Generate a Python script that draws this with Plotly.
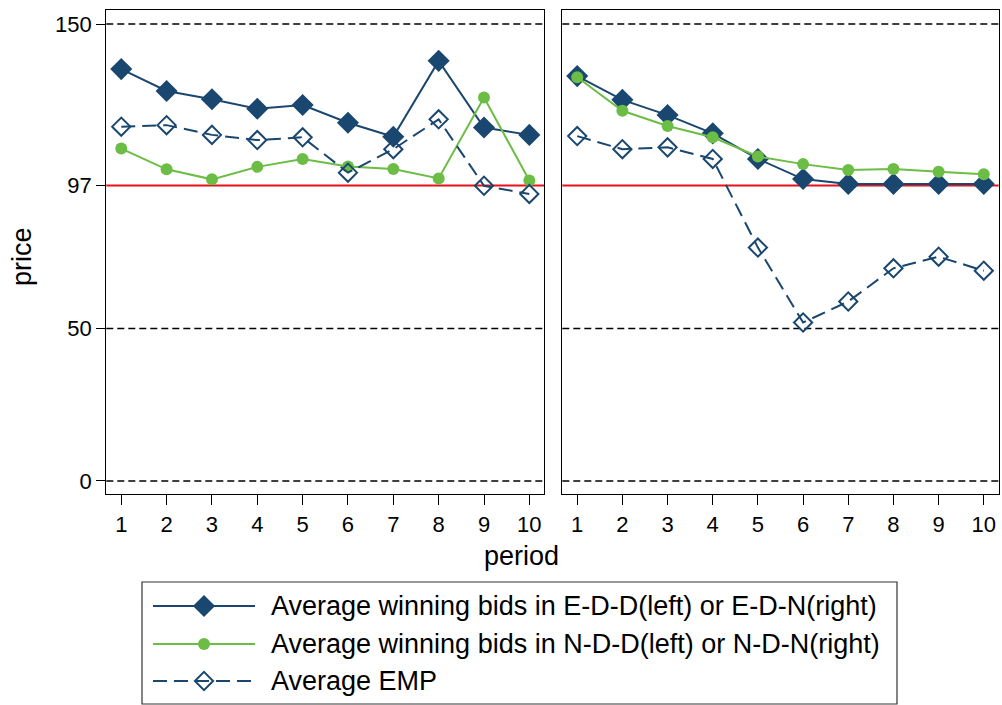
import plotly.graph_objects as go

# Period index shared by both panels
periods = list(range(1, 11))

# Left panel: E-D-D / N-D-D treatments
edd_bids = [135.2, 128.0, 125.3, 122.2, 123.4, 117.6, 113.0, 137.9, 116.0, 113.6]
ndd_bids = [109.1, 102.3, 99.0, 103.1, 105.7, 103.2, 102.4, 99.3, 125.9, 98.6]
emp_left = [116.3, 116.8, 113.6, 111.9, 112.8, 101.2, 108.9, 118.7, 96.9, 94.2]

# Right panel: E-D-N / N-D-N treatments
edn_bids = [132.9, 125.1, 120.1, 114.1, 105.7, 99.1, 97.5, 97.5, 97.5, 97.5]
ndn_bids = [132.5, 121.5, 116.5, 112.8, 106.5, 104.0, 102.1, 102.4, 101.5, 100.7]
emp_right = [113.2, 108.9, 109.5, 105.7, 76.6, 52.0, 58.9, 69.8, 73.6, 69.0]

# Reference levels and y tick labels
ref_level = 97
grid_levels = [0, 50, 150]
y_ticks = [0, 50, 97, 150]

legend_labels = [
    "Average winning bids in E-D-D(left) or E-D-N(right)",
    "Average winning bids in N-D-D(left) or N-D-N(right)",
    "Average EMP",
]

NAVY = "#1a476f"
GREEN = "#6cbd45"
RED = "#e8111b"
FONT = "Liberation Sans, Arial, sans-serif"
W, H = 1002, 705


def px_x(p):
    return p / W


def px_y(p):
    return 1 - p / H


fig = go.Figure()

panels = [
    ("x", "y", edd_bids, ndd_bids, emp_left),
    ("x2", "y2", edn_bids, ndn_bids, emp_right),
]
for xa, ya, bids_e, bids_n, emp in panels:
    fig.add_trace(go.Scatter(
        x=periods, y=bids_e, xaxis=xa, yaxis=ya, mode="lines+markers",
        line=dict(color=NAVY, width=2),
        marker=dict(symbol="diamond", size=17, color=NAVY),
        showlegend=False, cliponaxis=False))
    fig.add_trace(go.Scatter(
        x=periods, y=bids_n, xaxis=xa, yaxis=ya, mode="lines+markers",
        line=dict(color=GREEN, width=2),
        marker=dict(symbol="circle", size=12, color=GREEN),
        showlegend=False, cliponaxis=False))
    fig.add_trace(go.Scatter(
        x=periods, y=emp, xaxis=xa, yaxis=ya, mode="lines+markers",
        line=dict(color=NAVY, width=2, dash="14px,7px"),
        marker=dict(symbol="diamond-open", size=14, color=NAVY,
                    line=dict(width=2, color=NAVY)),
        showlegend=False, cliponaxis=False))

# Horizontal guide lines in each panel
shapes = []
for xa, ya in [("x", "y"), ("x2", "y2")]:
    for lv in grid_levels:
        shapes.append(dict(type="line", xref=f"{xa} domain", yref=ya,
                           x0=0, x1=1, y0=lv, y1=lv, layer="below",
                           line=dict(color="black", width=1.5, dash="7px,4px")))
    shapes.append(dict(type="line", xref=f"{xa} domain", yref=ya,
                       x0=0, x1=1, y0=ref_level, y1=ref_level, layer="below",
                       line=dict(color=RED, width=2)))

# Legend drawn on an overlay axis measured in pixels
legend_rows = [606, 644, 681]
legend_styles = [
    dict(line=dict(color=NAVY, width=2),
         marker=dict(symbol="diamond", size=17, color=NAVY)),
    dict(line=dict(color=GREEN, width=2),
         marker=dict(symbol="circle", size=12, color=GREEN)),
    dict(line=dict(color=NAVY, width=2, dash="14px,7px"),
         marker=dict(symbol="diamond-open", size=14, color=NAVY,
                     line=dict(width=2, color=NAVY))),
]
sample_x0, sample_xm, sample_x1 = 153, 204, 255
for row_y, sty in zip(legend_rows, legend_styles):
    fig.add_trace(go.Scatter(
        x=[sample_x0, sample_x1], y=[row_y, row_y], xaxis="x3", yaxis="y3",
        mode="lines", line=sty["line"], showlegend=False, hoverinfo="skip"))
    fig.add_trace(go.Scatter(
        x=[sample_xm], y=[row_y], xaxis="x3", yaxis="y3",
        mode="markers", marker=sty["marker"], showlegend=False, hoverinfo="skip"))

shapes.append(dict(type="rect", xref="paper", yref="paper",
                   x0=px_x(142), x1=px_x(897), y0=px_y(704), y1=px_y(582),
                   line=dict(color="#333333", width=1.2), fillcolor="rgba(0,0,0,0)"))

annotations = []
for row_y, label in zip(legend_rows, legend_labels):
    annotations.append(dict(xref="paper", yref="paper", x=px_x(269), y=px_y(row_y),
                            text=label, showarrow=False, xanchor="left",
                            yanchor="middle", font=dict(family=FONT, size=27, color="black")))
annotations.append(dict(xref="paper", yref="paper", x=px_x(521), y=px_y(556),
                        text="period", showarrow=False, xanchor="center",
                        yanchor="middle", font=dict(family=FONT, size=27, color="black")))
annotations.append(dict(xref="paper", yref="paper", x=px_x(22), y=px_y(257),
                        text="price", showarrow=False, textangle=-90,
                        xanchor="center", yanchor="middle",
                        font=dict(family=FONT, size=27, color="black")))

y_dom = [px_y(494), px_y(10)]
x_range = [0.67, 10.33]
y_range = [-4.3, 154.6]

common_x = dict(range=x_range, tickvals=periods, ticks="outside", ticklen=10,
                tickwidth=1.2, tickcolor="black", showline=True, linecolor="black",
                linewidth=1.2, mirror=True, showgrid=False, zeroline=False,
                tickfont=dict(family=FONT, size=22, color="black"))
common_y = dict(range=y_range, showline=True, linecolor="black", linewidth=1.2,
                mirror=True, showgrid=False, zeroline=False)

fig.update_layout(
    width=W, height=H, margin=dict(l=0, r=0, t=0, b=0),
    paper_bgcolor="white", plot_bgcolor="rgba(0,0,0,0)",
    xaxis=dict(domain=[px_x(106.3), px_x(544.3)], anchor="y", **common_x),
    xaxis2=dict(domain=[px_x(562.3), px_x(998.7)], anchor="y2", **common_x),
    yaxis=dict(domain=y_dom, anchor="x", tickvals=y_ticks, ticks="outside",
               ticklen=9, tickwidth=1.2, tickcolor="black",
               tickfont=dict(family=FONT, size=22, color="black"), **common_y),
    yaxis2=dict(domain=y_dom, anchor="x2", showticklabels=False, ticks="", **common_y),
    xaxis3=dict(domain=[0, 1], range=[0, W], visible=False, anchor="y3", fixedrange=True),
    yaxis3=dict(domain=[0, 1], range=[H, 0], visible=False, anchor="x3", fixedrange=True),
    shapes=shapes, annotations=annotations,
    font=dict(family=FONT, color="black"),
)

fig.write_html("out.html")
